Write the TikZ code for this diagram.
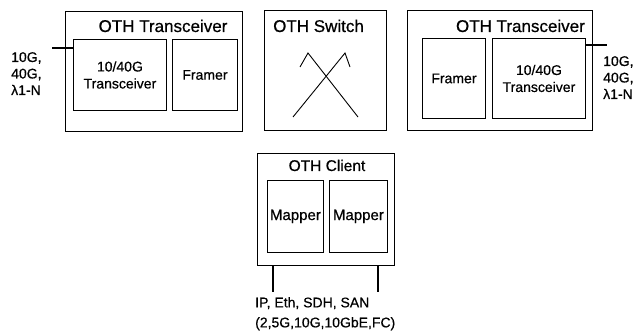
\documentclass[tikz,border=0pt]{standalone}
\usepackage{fontspec}
\setmainfont{Liberation Sans}[FakeBold=0.6]
\begin{document}
\begin{tikzpicture}[x=1pt,y=-1pt,
  box/.style={draw,line width=0.9pt,inner sep=0pt,anchor=north west,align=center,
    font=\fontsize{14}{17}\selectfont},
  ttl/.style={inner sep=0pt,font=\fontsize{17}{20}\selectfont},
  lbl/.style={inner sep=0pt,align=left,font=\fontsize{14}{16.5}\selectfont},
  wire/.style={line width=1.3pt},
  cross/.style={line width=0.9pt}]
\useasboundingbox (0,0) rectangle (640,334);

% left OTH transceiver
\node[box,minimum width=177pt,minimum height=120pt] (lt) at (65,11) {};
\node[ttl,anchor=base] (ltT) at (163,32) {OTH Transceiver};
\node[box,minimum width=93pt,minimum height=71pt] (ltx) at (73,39) {10/40G\\Transceiver};
\node[box,minimum width=65pt,minimum height=71pt] (ltf) at (172,39) {Framer};
\node[lbl,anchor=north west] (lin) at (11,52) {10G,\\40G,\\λ1-N};
\coordinate (lw) at (52,48);
\draw[wire] (lw) -- (lw -| ltx.west);

% OTH switch
\node[box,minimum width=122pt,minimum height=120pt] (sw) at (264,10) {};
\node[ttl,anchor=base west] (swT) at (273,32) {OTH Switch};
\draw[cross] (293,117) -- (345,53) -- (350,67);
\draw[cross] (358,117) -- (308,53) -- (300,67);

% right OTH transceiver
\node[box,minimum width=185pt,minimum height=120pt] (rt) at (407,10) {};
\node[ttl,anchor=base east] (rtT) at (585,32) {OTH Transceiver};
\node[box,minimum width=63pt,minimum height=80pt] (rtf) at (422,38) {Framer};
\node[box,minimum width=93pt,minimum height=80pt] (rtx) at (492,38) {10/40G\\Transceiver};
\node[lbl,anchor=north west] (rin) at (603,56) {10G,\\40G,\\λ1-N};
\coordinate (rw) at (607,45);
\draw[wire] (rtx.east |- rw) -- (rw);

% OTH client
\node[box,minimum width=137pt,minimum height=112pt] (cl) at (257,153) {};
\node[ttl,anchor=base,font=\fontsize{15.5}{18}\selectfont] (clT) at (327,171) {OTH Client};
\node[box,minimum width=56pt,minimum height=72pt,font=\fontsize{15}{17}\selectfont] (m1) at (267,180) {Mapper};
\node[box,minimum width=58pt,minimum height=72pt,font=\fontsize{15}{17}\selectfont] (m2) at (329,180) {Mapper};
\coordinate (c1) at (273,292);
\coordinate (c2) at (378,292);
\draw[wire] (c1 |- cl.south) -- (c1);
\draw[wire] (c2 |- cl.south) -- (c2);
\node[lbl,align=left,anchor=north west,font=\fontsize{14}{20}\selectfont] (cin) at (255,297) {IP, Eth, SDH, SAN\\(2,5G,10G,10GbE,FC)};
\end{tikzpicture}
\end{document}
